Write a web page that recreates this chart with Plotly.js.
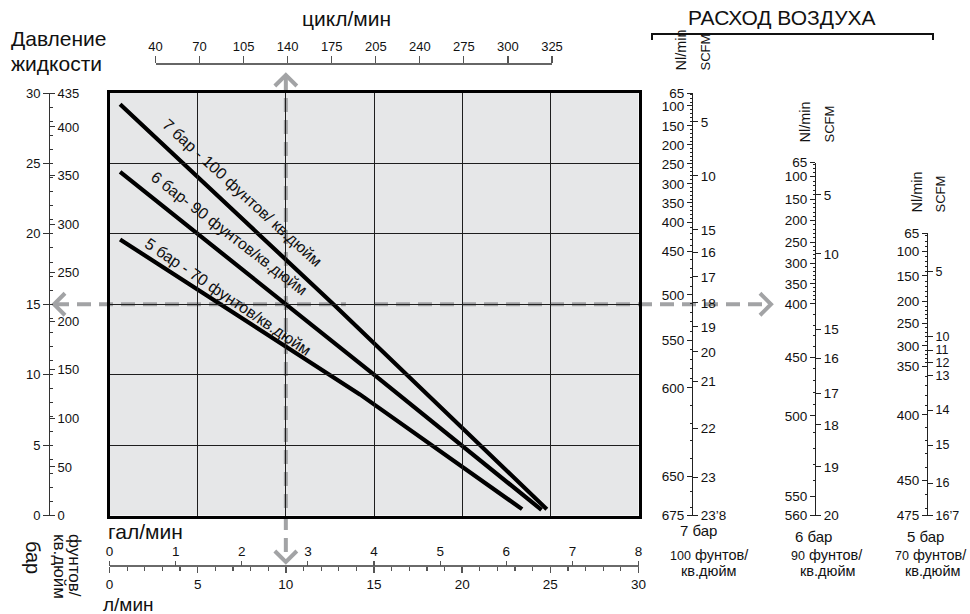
<!DOCTYPE html>
<html lang="ru"><head><meta charset="utf-8">
<script src="https://cdn.plot.ly/plotly-3.0.1.min.js"></script>
<style>html,body{margin:0;padding:0;background:#fff;}#chart{width:970px;height:614px;}</style>
</head><body><div id="chart"></div>
<script>
// ---------------- DATA ----------------
// pump curves: fluid flow (l/min) vs fluid pressure (bar)
const flow7 = [0.6, 12.7, 24.8];
const press7 = [29.2, 15.0, 0.45];
const flow6 = [0.6, 15.0, 24.5];
const press6 = [24.4, 10.0, 0.4];
const flow5 = [0.6, 14.2, 23.4];
const press5 = [19.6, 8.6, 0.45];
const curveLabels = ['7 бар - 100 фунтов/ кв.дюйм', '6 бар- 90 фунтов/кв.дюйм', '5 бар - 70 фунтов/кв.дюйм'];

// axis tick labels
const barTicks = [0, 5, 10, 15, 20, 25, 30];
const psiTicks = [0, 50, 100, 150, 200, 250, 300, 350, 400, 435];
const cycleTicks = ['40', '70', '105', '140', '175', '205', '240', '275', '300', '325'];
const galTicks = [0, 1, 2, 3, 4, 5, 6, 7, 8];
const lpmTicks = [0, 5, 10, 15, 20, 25, 30];

// air consumption scales (labels and their position on the pressure scale, bar)
const air7Nl = [65, 100, 150, 200, 250, 300, 350, 400, 450, 500, 550, 600, 650, 675];
const air7NlPos = [30, 29.08, 27.66, 26.31, 24.96, 23.54, 22.19, 20.84, 18.78, 15.66, 12.46, 9.06, 2.80, 0];
const air7Scfm = ['5', '10', '15', '16', '17', '18', '19', '20', '21', '22', '23', '23’8'];
const air7ScfmPos = [27.95, 24.11, 20.28, 18.71, 16.94, 15.09, 13.39, 11.61, 9.55, 6.21, 2.73, 0];

const air6Nl = [65, 100, 150, 200, 250, 300, 350, 400, 450, 500, 550, 560];
const air6NlPos = [25.06, 24.06, 22.45, 20.95, 19.41, 17.92, 16.45, 15.03, 11.24, 7.07, 1.35, 0];
const air6Scfm = ['5', '10', '15', '16', '17', '18', '19', '20'];
const air6ScfmPos = [22.76, 18.57, 13.23, 11.17, 8.67, 6.43, 3.46, 0];

const air5Nl = [65, 100, 150, 200, 250, 300, 350, 400, 450, 475];
const air5NlPos = [20.04, 18.73, 17.01, 15.18, 13.65, 12.04, 10.58, 7.14, 2.52, 0];
const air5Scfm = ['5', '10', '11', '12', '13', '14', '15', '16', '16’7'];
const air5ScfmPos = [17.32, 12.71, 11.75, 10.88, 9.94, 7.49, 5.0, 2.3, 0];

const scaleBar = ['7 бар', '6 бар', '5 бар'];
const scalePsi = ['100', '90', '70'];

// reading guide example
const guideFlow = 10;   // l/min
const guidePress = 15;  // bar

// ---------------- GEOMETRY ----------------
const W = 970, H = 614;
const X0 = 109.5, X1 = 638.5, YT = 93, YB = 515.5;
const PX = v => v / W, PY = v => 1 - v / H;
const S = (YB - YT) / 30;           // px per bar
const SX = (X1 - X0) / 30;          // px per l/min
const FONT = 'Liberation Sans, Arial, Helvetica, sans-serif';
const BG = '#e6e7e8';
const GUIDE = '#a2a3a5';

function nlMinor(labels, pos) {
  const out = [];
  for (let v = 70; v < labels[labels.length - 1]; v += 10) {
    if (labels.includes(v)) continue;
    for (let i = 0; i < labels.length - 1; i++) {
      if (v > labels[i] && v < labels[i + 1]) {
        out.push(pos[i] + (pos[i + 1] - pos[i]) * (v - labels[i]) / (labels[i + 1] - labels[i]));
        break;
      }
    }
  }
  return out;
}

function scaleAxes(nl, nlPos, scfm, scfmPos, xpx, idA, scfmSize) {
  const top = nlPos[0];
  const dom = [PY(YB), PY(YB - top * S)];
  const a = {
    anchor: 'free', position: PX(xpx), side: 'left', domain: dom, range: [0, top],
    tickmode: 'array', tickvals: nlPos, ticktext: nl.map(String),
    ticks: 'outside', ticklen: 5, tickwidth: 1, tickcolor: '#222',
    showline: true, linecolor: '#222', linewidth: 1.2,
    showgrid: false, zeroline: false, tickfont: {size: 13.5, color: '#111'},
    minor: {tickmode: 'array', tickvals: nlMinor(nl, nlPos), ticks: 'outside', ticklen: 2.5, tickwidth: 1, tickcolor: '#222', showgrid: false},
    fixedrange: true
  };
  const b = {
    overlaying: idA, anchor: 'free', position: PX(xpx), side: 'right', range: [0, top],
    tickmode: 'array', tickvals: scfmPos, ticktext: scfm,
    ticks: 'outside', ticklen: 5, tickwidth: 1, tickcolor: '#222',
    showline: false, showgrid: false, zeroline: false, tickfont: {size: scfmSize, color: '#111'},
    fixedrange: true
  };
  return [a, b];
}

const [y4, y5] = scaleAxes(air7Nl, air7NlPos, air7Scfm, air7ScfmPos, 692, 'y4', 13.5);
const [y6, y7] = scaleAxes(air6Nl, air6NlPos, air6Scfm, air6ScfmPos, 815, 'y6', 13.5);
const [y8, y9] = scaleAxes(air5Nl, air5NlPos, air5Scfm, air5ScfmPos, 927, 'y8', 12.5);

// ---------------- TRACES ----------------
const lineStyle = {color: '#000', width: 4.2};
const traces = [
  {x: flow7, y: press7, mode: 'lines', line: lineStyle, hoverinfo: 'skip'},
  {x: flow6, y: press6, mode: 'lines', line: lineStyle, hoverinfo: 'skip'},
  {x: flow5, y: press5, mode: 'lines', line: lineStyle, hoverinfo: 'skip'}
];
const pairs = [['x2', 'y'], ['x3', 'y'], ['x4', 'y'], ['x', 'y2'], ['x', 'y3'],
  ['x', 'y4'], ['x', 'y5'], ['x', 'y6'], ['x', 'y7'], ['x', 'y8'], ['x', 'y9']];
pairs.forEach(p => traces.push({x: [null], y: [null], xaxis: p[0], yaxis: p[1], mode: 'markers', hoverinfo: 'skip', showlegend: false}));
traces.forEach(t => t.type = 'scatter');

// ---------------- ANNOTATIONS ----------------
function txt(text, x, y, size, extra) {
  return Object.assign({text: text, x: PX(x), y: PY(y), xref: 'paper', yref: 'paper', showarrow: false,
    font: {family: FONT, size: size, color: '#111'}, xanchor: 'center', yanchor: 'middle'}, extra || {});
}
const ann = [
  txt('Давление', 9, 38, 21, {xanchor: 'left'}),
  txt('жидкости', 9, 63, 21, {xanchor: 'left'}),
  txt('цикл/мин', 346, 18, 21),
  txt('РАСХОД ВОЗДУХА', 782, 17, 21),
  txt('гал/мин', 106, 531, 21, {xanchor: 'left'}),
  txt('л/мин', 101, 604, 19, {xanchor: 'left'}),
  txt('бар', 33, 557, 20, {textangle: 90}),
  txt('кв.дюйм', 60, 566, 17, {textangle: 90}),
  txt('фунтов/', 75, 565, 17, {textangle: 90}),
  // air scale headers
  txt('Nl/min', 680, 73, 14.5, {textangle: -90, yanchor: 'bottom'}),
  txt('SCFM', 705, 73, 13, {textangle: -90, yanchor: 'bottom'}),
  txt('Nl/min', 804, 145, 14.5, {textangle: -90, yanchor: 'bottom'}),
  txt('SCFM', 829, 145, 13, {textangle: -90, yanchor: 'bottom'}),
  txt('Nl/min', 917, 215, 14.5, {textangle: -90, yanchor: 'bottom'}),
  txt('SCFM', 940, 215, 13, {textangle: -90, yanchor: 'bottom'})
];
const scaleX = [698, 813, 925];
const scaleBarY = [530, 536, 536];
const psiX = [709, 827, 931];
const kvX = [708, 827, 932];
scaleBar.forEach((s, i) => {
  ann.push(txt(s, scaleX[i], scaleBarY[i], 15));
  ann.push(txt('<span style="font-size:12.5px">' + scalePsi[i] + '</span> фунтов/', psiX[i], 555, 14.5));
  ann.push(txt('кв.дюйм', kvX[i], 571, 14.5));
});
// curve labels
const labelPos = [[7.5, 22.9, 42.5], [6.8, 20.0, 37.5], [6.7, 15.55, 34]];
curveLabels.forEach((t, i) => ann.push({text: t, x: labelPos[i][0], y: labelPos[i][1], xref: 'x', yref: 'y',
  textangle: labelPos[i][2], showarrow: false, font: {family: FONT, size: 16, color: '#111'}}));

// ---------------- SHAPES ----------------
function path(pts) { return 'M' + pts.map(p => PX(p[0]) + ',' + PY(p[1])).join('L'); }
const gx = X0 + guideFlow * SX;
const gy = YB - guidePress * S;
const dashLine = {color: GUIDE, width: 4, dash: '14px,8px'};
const headLine = {color: GUIDE, width: 4};
const shapes = [
  {type: 'rect', xref: 'paper', yref: 'paper', x0: PX(X0), x1: PX(X1), y0: PY(YB), y1: PY(YT), fillcolor: BG, line: {width: 0}, layer: 'below'},
  // horizontal guide (two segments) and arrowheads
  {type: 'line', xref: 'paper', yref: 'paper', x0: PX(55), x1: PX(346), y0: PY(gy), y1: PY(gy), line: dashLine, layer: 'below'},
  {type: 'line', xref: 'paper', yref: 'paper', x0: PX(X0 + 15 * SX), x1: PX(770), y0: PY(gy), y1: PY(gy), line: dashLine, layer: 'below'},
  {type: 'path', xref: 'paper', yref: 'paper', path: path([[65, gy - 11], [54, gy], [65, gy + 11]]), line: headLine, layer: 'below'},
  {type: 'path', xref: 'paper', yref: 'paper', path: path([[760, gy - 11], [771, gy], [760, gy + 11]]), line: headLine, layer: 'below'},
  // vertical guide and arrowheads
  {type: 'line', xref: 'paper', yref: 'paper', x0: PX(gx), x1: PX(gx), y0: PY(76), y1: PY(561), line: dashLine, layer: 'below'},
  {type: 'path', xref: 'paper', yref: 'paper', path: path([[gx - 11, 86], [gx, 75], [gx + 11, 86]]), line: headLine, layer: 'below'},
  {type: 'path', xref: 'paper', yref: 'paper', path: path([[gx - 11, 551], [gx, 562], [gx + 11, 551]]), line: headLine, layer: 'below'},
  // gap in the grid where the guide ends
  {type: 'rect', xref: 'x', yref: 'y', x0: 13.4, x1: 15.05, y0: 13.3, y1: 15.05, fillcolor: BG, line: {width: 0}, layer: 'between'},
  // bracket over air scales
  {type: 'path', xref: 'paper', yref: 'paper', path: path([[652, 40], [652, 34], [933, 34], [933, 40]]), line: {color: '#111', width: 2}}
];

// ---------------- LAYOUT ----------------
const mainAxis = {range: [0, 30], tick0: 0, dtick: 5, showgrid: true, gridcolor: '#1e1e1e', gridwidth: 1,
  showline: true, mirror: true, linecolor: '#000', linewidth: 3, ticks: '', showticklabels: false, zeroline: false, fixedrange: true};
const layout = {
  width: W, height: H, margin: {l: 0, r: 0, t: 0, b: 0, pad: 0}, showlegend: false,
  paper_bgcolor: '#ffffff', plot_bgcolor: 'rgba(0,0,0,0)',
  font: {family: FONT, size: 13, color: '#111'},
  xaxis: Object.assign({domain: [PX(X0), PX(X1)], anchor: 'y'}, mainAxis),
  yaxis: Object.assign({domain: [PY(YB), PY(YT)], anchor: 'x'}, mainAxis),
  // cycles per minute (top)
  xaxis2: {anchor: 'free', position: PY(63), side: 'top', domain: [PX(155.5), PX(552)], range: [0, 9],
    tickmode: 'array', tickvals: cycleTicks.map((c, i) => i), ticktext: cycleTicks,
    ticks: 'outside', ticklen: 7, tickwidth: 1.2, tickcolor: '#555', showline: true, linecolor: '#666', linewidth: 1.5,
    showgrid: false, zeroline: false, tickfont: {size: 13, color: '#111'}, fixedrange: true},
  // gallons per minute (bottom, upper labels)
  xaxis3: {overlaying: 'x', anchor: 'free', position: PY(566), side: 'top', range: [0, 8],
    tickmode: 'array', tickvals: galTicks, ticks: 'outside', ticklen: 5, tickwidth: 1.2, tickcolor: '#555',
    showline: false, showgrid: false, zeroline: false, tickfont: {size: 13.5, color: '#111'}, fixedrange: true},
  // litres per minute (bottom)
  xaxis4: {overlaying: 'x', anchor: 'free', position: PY(566), side: 'bottom', range: [0, 30],
    tickmode: 'array', tickvals: lpmTicks, ticks: 'outside', ticklen: 6, tickwidth: 1.4, tickcolor: '#555',
    minor: {tickmode: 'linear', tick0: 0, dtick: 1, ticks: 'outside', ticklen: 4, tickwidth: 1.2, tickcolor: '#555', showgrid: false},
    showline: true, linecolor: '#6a6a6a', linewidth: 2, showgrid: false, zeroline: false,
    tickfont: {size: 13.5, color: '#111'}, fixedrange: true},
  // fluid pressure: bar (left labels) and psi (right labels)
  yaxis2: {overlaying: 'y', anchor: 'free', position: PX(49), side: 'left', range: [0, 30],
    tickmode: 'array', tickvals: barTicks, ticks: 'outside', ticklen: 6, tickwidth: 1, tickcolor: '#333',
    showline: true, linecolor: '#333', linewidth: 1.2, showgrid: false, zeroline: false,
    tickfont: {size: 13, color: '#111'}, fixedrange: true},
  yaxis3: {overlaying: 'y', anchor: 'free', position: PX(49), side: 'right', range: [0, 30],
    tickmode: 'array', tickvals: psiTicks.map(p => p / 14.5), ticktext: psiTicks.map(String),
    ticks: 'outside', ticklen: 5, tickwidth: 1, tickcolor: '#333',
    minor: {tickmode: 'linear', tick0: 0, dtick: 1, ticks: 'outside', ticklen: 3, tickwidth: 1, tickcolor: '#333', showgrid: false},
    showline: false, showgrid: false, zeroline: false, tickfont: {size: 13, color: '#111'}, fixedrange: true},
  yaxis4: y4, yaxis5: y5, yaxis6: y6, yaxis7: y7, yaxis8: y8, yaxis9: y9,
  annotations: ann,
  shapes: shapes
};

Plotly.newPlot('chart', traces, layout, {staticPlot: true, displayModeBar: false});
</script>
</body></html>
